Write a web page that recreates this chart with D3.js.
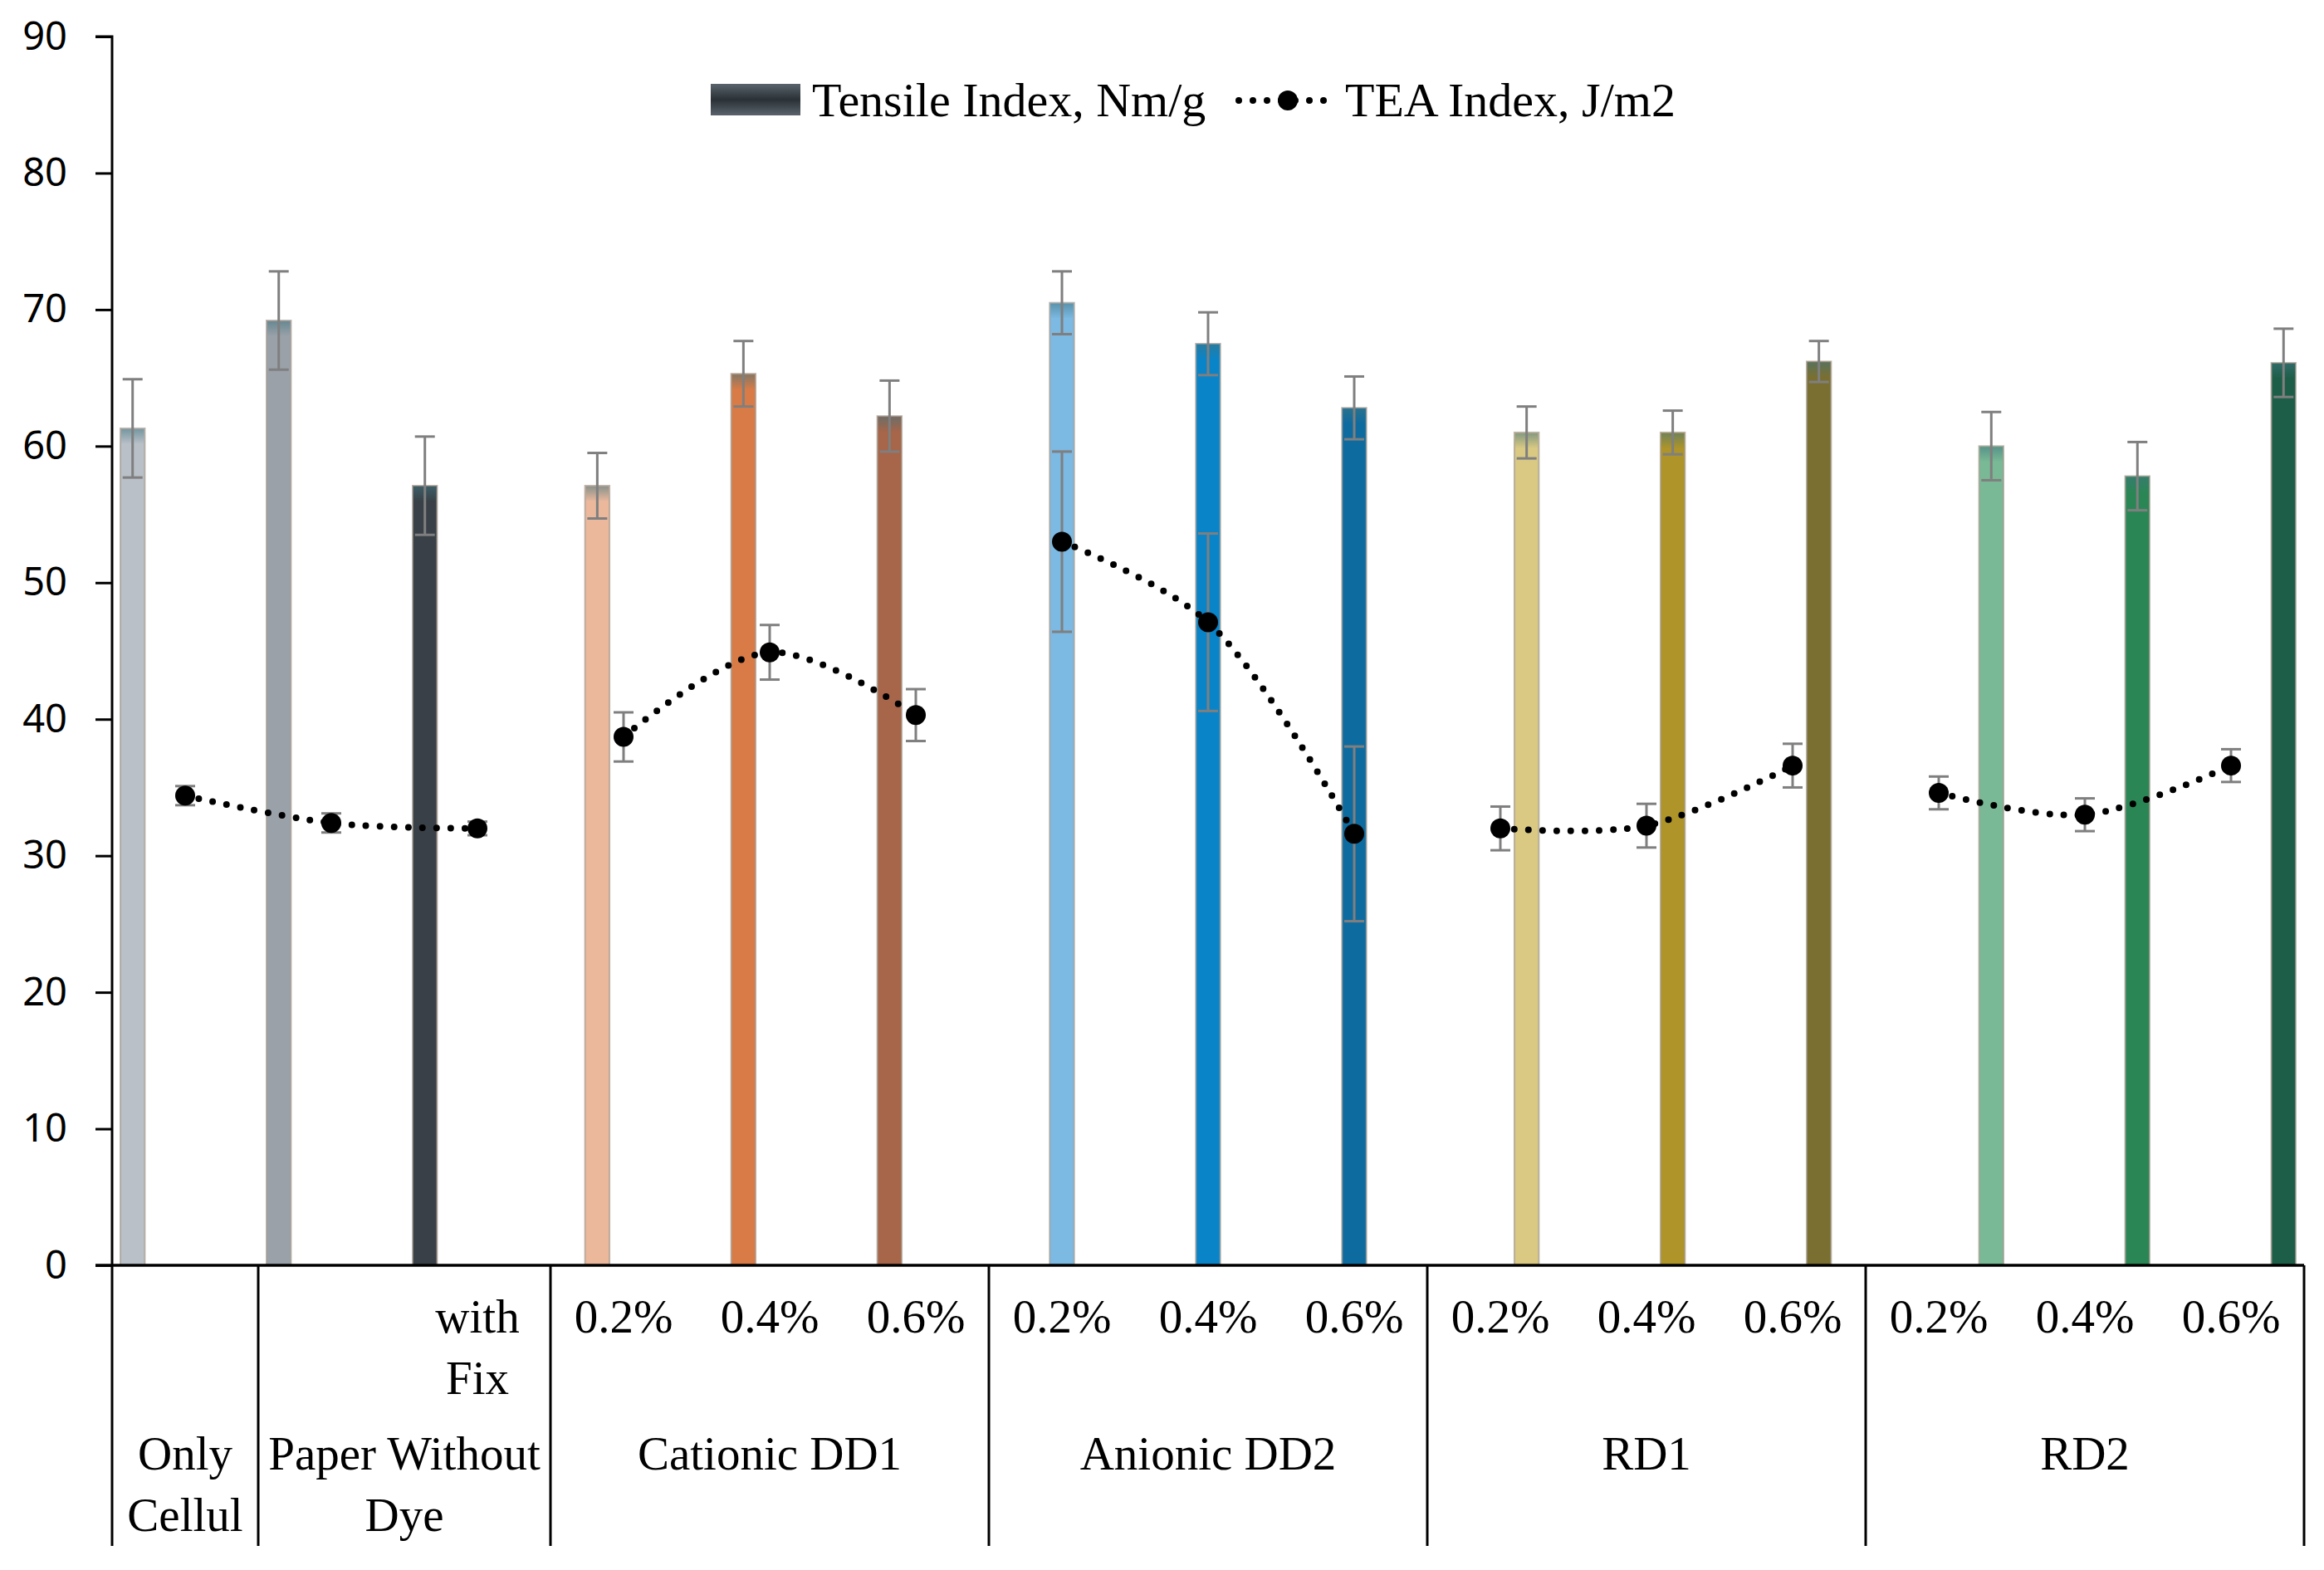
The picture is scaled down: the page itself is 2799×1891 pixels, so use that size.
<!DOCTYPE html>
<html><head><meta charset="utf-8">
<script src="https://cdn.jsdelivr.net/npm/d3@7/dist/d3.min.js"></script>
<style>html,body{margin:0;padding:0;background:#fff;}</style>
</head><body>
<script>
// ---- data ----
const categoryLabels = ["", "", "with Fix", "0.2%", "0.4%", "0.6%", "0.2%", "0.4%", "0.6%", "0.2%", "0.4%", "0.6%", "0.2%", "0.4%", "0.6%"];
const groupNames = [["Only", "Cellul"], ["Paper Without", "Dye"], ["Cationic DD1"], ["Anionic DD2"], ["RD1"], ["RD2"]];
const groupSizes = [1, 2, 3, 3, 3, 3];
const seriesOfCategory = [0, 0, 0, 1, 1, 1, 2, 2, 2, 3, 3, 3, 4, 4, 4];
const tensile = [61.3, 69.2, 57.1, 57.1, 65.3, 62.2, 70.5, 67.5, 62.8, 61.0, 61.0, 66.2, 60.0, 57.8, 66.1];
const tensileErr = [3.6, 3.6, 3.6, 2.4, 2.4, 2.6, 2.3, 2.3, 2.3, 1.9, 1.6, 1.5, 2.5, 2.5, 2.5];
const tea = [34.4, 32.4, 32.0, 38.7, 44.9, 40.3, 53.0, 47.1, 31.6, 32.0, 32.2, 36.6, 34.6, 33.0, 36.6];
const teaErr = [0.7, 0.7, 0.5, 1.8, 2.0, 1.9, 6.6, 6.5, 6.4, 1.6, 1.6, 1.6, 1.2, 1.2, 1.2];
const barColors = ["#b9c0c8", "#9aa1a9", "#394047", "#ebb89c", "#d97b46", "#a76549", "#7cb9e3", "#0a84c8", "#0e6b9f", "#d9c983", "#ae9429", "#7a6f31", "#79b995", "#2b8656", "#1d5e48"];
const yTicks = [0, 10, 20, 30, 40, 50, 60, 70, 80, 90];
const legendLabels = ["Tensile Index, Nm/g", "TEA Index, J/m2"];

// ---- layout ----
const W = 2799, H = 1891;
const mLeft = 135, mRight = 2775, mTop = 44, mBottom = 1524;
const FONT = "'Liberation Serif', 'Times New Roman', serif";
const SANS = "'Noto Sans', 'Open Sans', sans-serif";
const FS = 57;

const svg = d3.select("body").append("svg").attr("width", W).attr("height", H)
  .style("font-family", FONT);
const defs = svg.append("defs");
const tg = defs.append("linearGradient").attr("id", "topTint").attr("x1", 0).attr("x2", 0).attr("y1", 0).attr("y2", 1);
tg.append("stop").attr("offset", "0%").attr("stop-color", "#3f7580").attr("stop-opacity", 0.55);
tg.append("stop").attr("offset", "100%").attr("stop-color", "#3f7580").attr("stop-opacity", 0);

const x = d3.scaleBand().domain(d3.range(categoryLabels.length)).range([mLeft, mRight]).padding(0);
const xs = d3.scaleBand().domain(d3.range(5)).range([-78, 78]).paddingInner(0.07);
const y = d3.scaleLinear().domain([0, 90]).range([mBottom, mTop]);
const barX = i => x(i) + x.bandwidth() / 2 + xs(seriesOfCategory[i]);

// bars
const barG = svg.append("g");
barG.selectAll("rect.bar").data(tensile).join("rect").attr("class", "bar")
  .attr("x", (d, i) => barX(i))
  .attr("width", xs.bandwidth())
  .attr("y", d => y(d))
  .attr("height", d => y(0) - y(d))
  .attr("fill", (d, i) => barColors[i])
  .attr("stroke", "#a49a90").attr("stroke-width", 2).attr("stroke-opacity", 0.7);
barG.selectAll("rect.tint").data(tensile).join("rect").attr("class", "tint")
  .attr("x", (d, i) => barX(i) + 1)
  .attr("width", xs.bandwidth() - 2)
  .attr("y", d => y(d) + 1)
  .attr("height", 18)
  .attr("fill", "url(#topTint)");

// tensile error bars
const errColor = "#7f7f7f";
const eb = svg.append("g").attr("stroke", errColor).attr("stroke-width", 3).attr("fill", "none");
tensile.forEach((v, i) => {
  const cx = barX(i) + xs.bandwidth() / 2;
  const y1 = y(v + tensileErr[i]), y2 = y(v - tensileErr[i]);
  eb.append("line").attr("x1", cx).attr("x2", cx).attr("y1", y1).attr("y2", y2);
  eb.append("line").attr("x1", cx - 12).attr("x2", cx + 12).attr("y1", y1).attr("y2", y1);
  eb.append("line").attr("x1", cx - 12).attr("x2", cx + 12).attr("y1", y2).attr("y2", y2);
});

// TEA lines per series segment
const cxOf = i => x(i) + x.bandwidth() / 2;
const line = d3.line().x(d => cxOf(d)).y(d => y(tea[d])).curve(d3.curveCatmullRom.alpha(0.5));
const segs = d3.groups(d3.range(tea.length), i => seriesOfCategory[i]).map(g => g[1]);
svg.append("g").selectAll("path").data(segs).join("path")
  .attr("d", line).attr("fill", "none").attr("stroke", "#000")
  .attr("stroke-width", 8).attr("stroke-linecap", "round").attr("stroke-dasharray", "0,17");

// TEA error bars
const eb2 = svg.append("g").attr("stroke", errColor).attr("stroke-width", 3);
tea.forEach((v, i) => {
  const cx = cxOf(i);
  const y1 = y(v + teaErr[i]), y2 = y(v - teaErr[i]);
  eb2.append("line").attr("x1", cx).attr("x2", cx).attr("y1", y1).attr("y2", y2);
  eb2.append("line").attr("x1", cx - 12).attr("x2", cx + 12).attr("y1", y1).attr("y2", y1);
  eb2.append("line").attr("x1", cx - 12).attr("x2", cx + 12).attr("y1", y2).attr("y2", y2);
});
svg.append("g").selectAll("circle").data(tea).join("circle")
  .attr("cx", (d, i) => cxOf(i)).attr("cy", d => y(d)).attr("r", 12).attr("fill", "#000");

// y axis
const yAxis = svg.append("g").attr("transform", `translate(${mLeft},0)`)
  .call(d3.axisLeft(y).tickValues(yTicks).tickSize(20).tickPadding(34).tickFormat(d3.format("d")));
yAxis.select(".domain").attr("stroke", "#000").attr("stroke-width", 3).attr("d", `M-20,${mTop}H0V${mBottom}`);
yAxis.selectAll(".tick line").attr("stroke", "#000").attr("stroke-width", 3);
yAxis.selectAll(".tick text").attr("font-family", SANS).attr("font-size", 47).attr("fill", "#000");

// x axis line
svg.append("line").attr("x1", mLeft - 20).attr("x2", mRight).attr("y1", mBottom).attr("y2", mBottom)
  .attr("stroke", "#000").attr("stroke-width", 3.5);

// group separators
let cum = 0;
const bounds = [0];
groupSizes.forEach(s => { cum += s; bounds.push(cum); });
const sepX = b => b < categoryLabels.length ? x(b) : mRight;
svg.append("g").selectAll("line").data(bounds).join("line")
  .attr("x1", b => sepX(b)).attr("x2", b => sepX(b))
  .attr("y1", mBottom).attr("y2", 1862).attr("stroke", "#000").attr("stroke-width", 3);

// level-1 labels
const lab = svg.append("g").attr("font-size", FS).attr("fill", "#000").attr("text-anchor", "middle");
categoryLabels.forEach((t, i) => {
  if (!t) return;
  const words = t === "with Fix" ? ["with", "Fix"] : [t];
  words.forEach((w, k) => lab.append("text").attr("x", cxOf(i)).attr("y", 1605 + k * 74).text(w));
});
// level-2 labels
groupNames.forEach((lines, g) => {
  const x0 = sepX(bounds[g]), x1 = sepX(bounds[g + 1]);
  lines.forEach((w, k) => lab.append("text").attr("x", (x0 + x1) / 2).attr("y", 1770 + k * 74).text(w));
});

// legend
const lg = svg.append("g").attr("font-size", 58);
const grad = defs.append("linearGradient").attr("id", "lgGrad").attr("x1", 0).attr("x2", 0).attr("y1", 0).attr("y2", 1);
grad.append("stop").attr("offset", "0%").attr("stop-color", "#5a636c");
grad.append("stop").attr("offset", "50%").attr("stop-color", "#2a3136");
grad.append("stop").attr("offset", "100%").attr("stop-color", "#5a636c");
lg.append("rect").attr("x", 856).attr("y", 101).attr("width", 108).attr("height", 38).attr("fill", "url(#lgGrad)");
lg.append("text").attr("x", 978).attr("y", 140).text(legendLabels[0]);
lg.append("line").attr("x1", 1492).attr("x2", 1608).attr("y1", 121).attr("y2", 121)
  .attr("stroke", "#000").attr("stroke-width", 8).attr("stroke-linecap", "round").attr("stroke-dasharray", "0,17");
lg.append("circle").attr("cx", 1551).attr("cy", 121).attr("r", 12).attr("fill", "#000");
lg.append("text").attr("x", 1620).attr("y", 140).text(legendLabels[1]);
</script>
</body></html>
